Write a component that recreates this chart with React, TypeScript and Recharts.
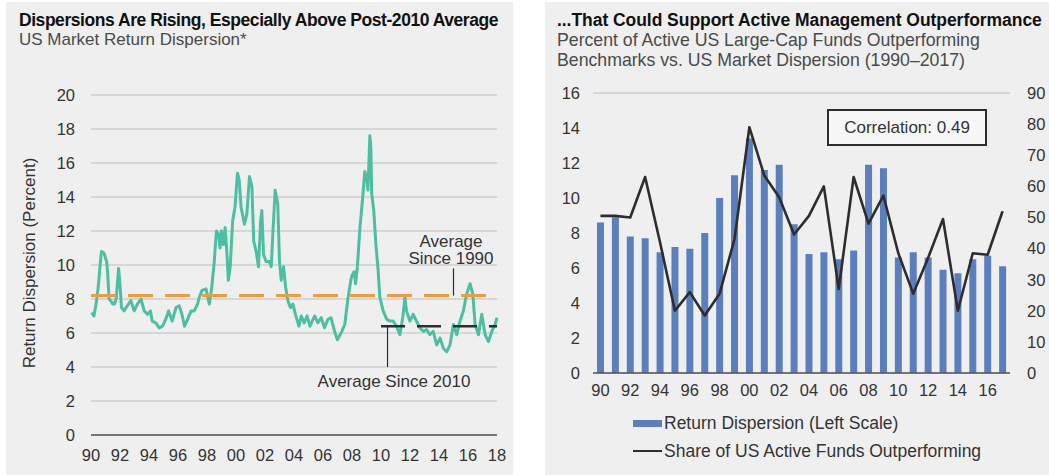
import React from "react";
import {
  LineChart,
  Line,
  ComposedChart,
  Bar,
  XAxis,
  YAxis,
  CartesianGrid,
  ReferenceLine,
} from "recharts";

// US market return dispersion (left panel), traced as decimal years
const dispersionDates = [
  1990.05, 1990.2, 1990.35, 1990.5, 1990.62, 1990.72, 1990.9, 1991.0, 1991.08, 1991.15,
  1991.25, 1991.36, 1991.5, 1991.62, 1991.75, 1991.9, 1991.98, 1992.1, 1992.28, 1992.5,
  1992.75, 1992.98, 1993.2, 1993.45, 1993.67, 1993.9, 1994.1, 1994.22, 1994.47, 1994.7,
  1994.93, 1995.15, 1995.35, 1995.6, 1995.86, 1996.08, 1996.27, 1996.45, 1996.66, 1996.9,
  1997.12, 1997.35, 1997.47, 1997.65, 1997.93, 1998.16, 1998.33, 1998.5, 1998.65, 1998.8,
  1998.9, 1999.0, 1999.13, 1999.25, 1999.38, 1999.47, 1999.6, 1999.77, 1999.93, 2000.1,
  2000.22, 2000.35, 2000.58, 2000.75, 2000.93, 2001.1, 2001.22, 2001.39, 2001.55, 2001.7,
  2001.78, 2001.9, 2002.08, 2002.3, 2002.43, 2002.55, 2002.7, 2002.88, 2003.0, 2003.12,
  2003.28, 2003.42, 2003.58, 2003.75, 2003.92, 2004.1, 2004.34, 2004.5, 2004.7, 2004.9,
  2005.1, 2005.42, 2005.65, 2005.88, 2006.1, 2006.34, 2006.55, 2006.8, 2006.99, 2007.25,
  2007.5, 2007.73, 2007.96, 2008.14, 2008.25, 2008.37, 2008.55, 2008.76, 2008.88, 2009.0,
  2009.1, 2009.23, 2009.3, 2009.36, 2009.5, 2009.65, 2009.8, 2009.92, 2010.15, 2010.4,
  2010.61, 2010.84, 2011.07, 2011.3, 2011.5, 2011.65, 2011.76, 2011.99, 2012.22, 2012.45,
  2012.68, 2012.91, 2013.15, 2013.37, 2013.6, 2013.84, 2014.07, 2014.3, 2014.53, 2014.76,
  2014.99, 2015.22, 2015.45, 2015.68, 2015.91, 2016.14, 2016.33, 2016.49, 2016.72, 2016.95,
  2017.18, 2017.41, 2017.64, 2017.87, 2018.0,
];
const dispersionValues = [
  7.2, 7.0, 7.7, 8.7, 9.9, 10.8, 10.7, 10.4, 10.2, 9.5,
  8.0, 7.9, 7.7, 7.7, 8.1, 9.8, 9.1, 7.5, 7.3, 7.6,
  7.9, 7.3, 7.7, 8.0, 7.3, 7.1, 7.3, 6.7, 6.6, 6.3,
  6.4, 6.8, 7.3, 6.7, 7.5, 7.6, 7.1, 6.4, 6.8, 7.3,
  7.3, 7.7, 8.1, 8.5, 8.6, 7.7, 8.7, 10.2, 12.0, 11.8,
  11.0, 12.0, 11.2, 12.2, 10.6, 9.1, 9.9, 12.6, 13.4, 15.4,
  15.0, 13.4, 12.4, 13.0, 15.2, 14.6, 11.4, 10.8, 9.9, 12.6,
  13.2, 10.6, 10.2, 10.2, 9.9, 12.0, 14.4, 13.6, 10.2, 9.1,
  9.9, 8.7, 7.9, 7.5, 7.7, 7.1, 6.4, 7.0, 6.6, 7.0,
  6.4, 7.0, 6.6, 6.9, 6.3, 6.8, 6.9, 6.1, 5.6, 6.0,
  6.5, 8.1, 9.3, 9.6, 8.9, 9.9, 12.2, 14.2, 15.5, 15.2,
  14.4, 17.6, 16.9, 14.2, 13.2, 11.2, 9.7, 8.1, 7.3, 6.8,
  6.7, 6.7, 6.4, 5.9, 6.9, 8.1, 7.3, 6.7, 7.1, 6.7,
  6.3, 6.1, 6.2, 5.9, 6.1, 5.3, 5.7, 5.1, 4.9, 5.3,
  6.5, 5.9, 6.7, 7.3, 8.3, 8.9, 8.3, 6.5, 5.9, 7.1,
  5.9, 5.5, 6.1, 6.5, 6.9,
];
const avgSince1990 = 8.2;
const avgSince2010 = 6.4;
const leftYTicks = [0, 2, 4, 6, 8, 10, 12, 14, 16, 18, 20];
const leftXTicks = [
  1990, 1992, 1994, 1996, 1998, 2000, 2002, 2004, 2006, 2008, 2010, 2012, 2014, 2016, 2018,
];

// annual dispersion vs. share of active funds outperforming (right panel)
const fundYears = [
  1990, 1991, 1992, 1993, 1994, 1995, 1996, 1997, 1998, 1999, 2000, 2001, 2002, 2003,
  2004, 2005, 2006, 2007, 2008, 2009, 2010, 2011, 2012, 2013, 2014, 2015, 2016, 2017,
];
const annualDispersion = [
  8.6, 8.9, 7.8, 7.7, 6.9, 7.2, 7.1, 8.0, 10.0, 11.3, 13.4, 11.6, 11.9, 8.5,
  6.8, 6.9, 6.5, 7.0, 11.9, 11.7, 6.6, 6.9, 6.6, 5.9, 5.7, 6.5, 6.7, 6.1,
];
const shareOutperforming = [
  50.5, 50.5, 50, 63, 42, 20, 26, 18.5, 25.5, 43, 79, 63.5, 56.5, 44.5,
  50.5, 60, 27, 63, 48, 57, 38.5, 25.5, 37, 49.5, 20, 38.5, 38, 52,
];
const leftScaleTicks = [0, 2, 4, 6, 8, 10, 12, 14, 16];
const rightScaleTicks = [0, 10, 20, 30, 40, 50, 60, 70, 80, 90];

const lineData = dispersionDates.map((year, i) => ({ year, value: dispersionValues[i] }));
const fundData = fundYears.map((year, i) => ({
  year,
  dispersion: annualDispersion[i],
  share: shareOutperforming[i],
}));

const FONT = "'Liberation Sans', Arial, sans-serif";
const PANEL = "#efefef";
const TEAL = "#4cbfa3";
const ORANGE = "#f39a3c";
const BLUE = "#5b7fbd";
const INK = "#2d2d2d";
const GRID = "#cfcfcf";
const TEXT = 17;

const twoDigit = (v: number) => String(v % 100).padStart(2, "0");
const tick = { fill: "#333", fontSize: 16.5, fontFamily: FONT };

const abs = (left: number, top: number, extra: React.CSSProperties = {}): React.CSSProperties => ({
  position: "absolute",
  left,
  top,
  whiteSpace: "nowrap",
  ...extra,
});

export default function App() {
  return (
    <div
      style={{
        position: "absolute",
        left: 0,
        top: 0,
        width: 1049,
        height: 475,
        background: "#fff",
        fontFamily: FONT,
        color: "#222",
        overflow: "hidden",
      }}
    >
      <div style={abs(6, 2, { width: 507, height: 473, background: PANEL })} />
      <div style={abs(545, 2, { width: 504, height: 473, background: PANEL })} />

      {/* left panel headings */}
      <div
        style={abs(19, 10, {
          fontSize: 17.5,
          lineHeight: "20px",
          fontWeight: 700,
          letterSpacing: -0.45,
          color: "#111",
        })}
      >
        Dispersions Are Rising, Especially Above Post-2010 Average
      </div>
      <div style={abs(19, 30, { fontSize: TEXT, lineHeight: "20px", color: "#4a4a4a" })}>
        US Market Return Dispersion*
      </div>
      <div
        style={abs(30, 263, {
          fontSize: TEXT,
          color: "#333",
          transform: "translate(-50%, -50%) rotate(-90deg)",
        })}
      >
        Return Dispersion (Percent)
      </div>

      <div style={abs(0, 0)}>
        <LineChart
          width={513}
          height={475}
          data={lineData}
          margin={{ top: 95, right: 16, bottom: 0, left: 0 }}
        >
          <CartesianGrid vertical={false} stroke={GRID} strokeWidth={1.5} />
          <XAxis
            dataKey="year"
            type="number"
            domain={[1990, 2018]}
            ticks={leftXTicks}
            tickFormatter={twoDigit}
            tickLine={false}
            axisLine={{ stroke: "#555", strokeWidth: 1.5 }}
            tick={tick}
            tickMargin={8}
            height={40}
            interval={0}
          />
          <YAxis
            domain={[0, 20]}
            ticks={leftYTicks}
            tickLine={false}
            axisLine={false}
            tick={tick}
            tickMargin={10}
            width={91}
          />
          <Line
            type="linear"
            dataKey="value"
            stroke={TEAL}
            strokeWidth={3}
            strokeLinejoin="round"
            dot={false}
            isAnimationActive={false}
          />
          <ReferenceLine
            y={avgSince1990}
            stroke={ORANGE}
            strokeWidth={3}
            strokeDasharray="25 12"
          />
          <ReferenceLine
            segment={[
              { x: 2010, y: avgSince2010 },
              { x: 2018, y: avgSince2010 },
            ]}
            stroke={INK}
            strokeWidth={2.6}
            strokeDasharray="24 12"
          />
          <ReferenceLine
            segment={[
              { x: 2015, y: avgSince1990 },
              { x: 2015, y: 9.8 },
            ]}
            stroke={INK}
            strokeWidth={1.2}
          />
          <ReferenceLine
            segment={[
              { x: 2010.45, y: avgSince2010 },
              { x: 2010.45, y: 4.0 },
            ]}
            stroke={INK}
            strokeWidth={1.2}
          />
        </LineChart>
      </div>

      <div
        style={abs(451, 233, {
          transform: "translateX(-50%)",
          textAlign: "center",
          fontSize: TEXT,
          lineHeight: "17px",
          color: "#333",
        })}
      >
        Average
        <br />
        Since 1990
      </div>
      <div
        style={abs(394, 372, {
          transform: "translateX(-50%)",
          fontSize: TEXT,
          lineHeight: "20px",
          color: "#333",
        })}
      >
        Average Since 2010
      </div>

      {/* right panel headings */}
      <div
        style={abs(557, 10, {
          fontSize: 17.5,
          lineHeight: "20px",
          fontWeight: 700,
          letterSpacing: -0.05,
          color: "#111",
        })}
      >
        ...That Could Support Active Management Outperformance
      </div>
      <div style={abs(557, 30, { fontSize: 17.7, lineHeight: "20px", color: "#4a4a4a" })}>
        Percent of Active US Large-Cap Funds Outperforming
        <br />
        Benchmarks vs. US Market Dispersion (1990–2017)
      </div>

      <div style={abs(530, 0)}>
        <ComposedChart
          width={519}
          height={475}
          data={fundData}
          margin={{ top: 93, right: 0, bottom: 72, left: 0 }}
        >
          <CartesianGrid vertical={false} stroke={GRID} strokeWidth={1.5} />
          <XAxis
            dataKey="year"
            tickFormatter={twoDigit}
            interval={1}
            tickLine={false}
            axisLine={{ stroke: "#555", strokeWidth: 1.5 }}
            tick={tick}
            tickMargin={5}
            height={30}
          />
          <YAxis
            yAxisId="left"
            domain={[0, 16]}
            ticks={leftScaleTicks}
            tickLine={false}
            axisLine={false}
            tick={tick}
            tickMargin={7}
            width={63}
          />
          <YAxis
            yAxisId="right"
            orientation="right"
            domain={[0, 90]}
            ticks={rightScaleTicks}
            tickLine={false}
            axisLine={false}
            tick={{ ...tick, textAnchor: "start" }}
            tickMargin={11}
            width={39}
          />
          <Bar
            yAxisId="left"
            dataKey="dispersion"
            fill={BLUE}
            barSize={7}
            isAnimationActive={false}
          />
          <Line
            yAxisId="right"
            type="linear"
            dataKey="share"
            stroke={INK}
            strokeWidth={2.6}
            strokeLinejoin="round"
            dot={false}
            isAnimationActive={false}
          />
        </ComposedChart>
      </div>

      <div
        style={abs(827, 109, {
          width: 160,
          height: 37,
          boxSizing: "border-box",
          border: `2px solid ${INK}`,
          background: "#f7f7f7",
          fontSize: TEXT,
          color: "#333",
          display: "flex",
          alignItems: "center",
          justifyContent: "center",
        })}
      >
        Correlation: 0.49
      </div>

      {/* legend */}
      <div style={abs(633, 420, { width: 29, height: 7, background: BLUE })} />
      <div style={abs(664, 413, { fontSize: 17.5, lineHeight: "20px", color: "#333" })}>
        Return Dispersion (Left Scale)
      </div>
      <div style={abs(633, 450, { width: 29, height: 2, background: INK })} />
      <div style={abs(664, 441, { fontSize: 17.5, lineHeight: "20px", color: "#333" })}>
        Share of US Active Funds Outperforming
      </div>
    </div>
  );
}
